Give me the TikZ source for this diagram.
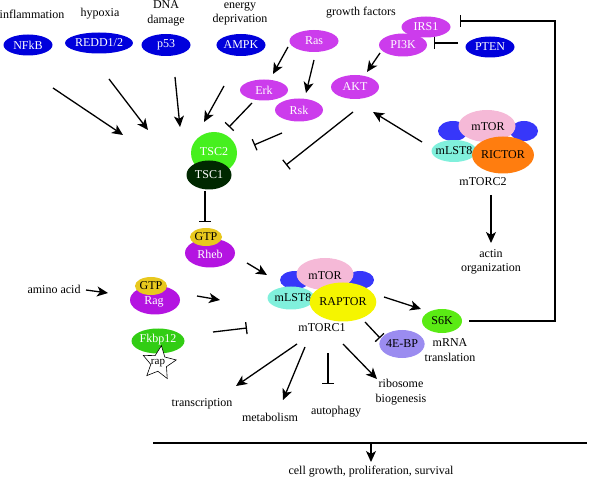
\documentclass[tikz,border=0pt]{standalone}
\usepackage{fontspec}
\setmainfont{Liberation Serif}
\usepackage{xcolor}
\usepackage{tikz}
\usetikzlibrary{shapes.geometric,arrows.meta}
\definecolor{inhibit}{RGB}{0,0,220}
\definecolor{sideblue}{RGB}{55,55,250}
\definecolor{kinase}{RGB}{204,60,236}
\definecolor{gprot}{RGB}{180,20,225}
\definecolor{tsctwo}{RGB}{70,240,30}
\definecolor{tscone}{RGB}{0,40,0}
\definecolor{gtp}{RGB}{232,200,30}
\definecolor{mtor}{RGB}{245,185,215}
\definecolor{mlst}{RGB}{128,240,220}
\definecolor{rictor}{RGB}{255,125,15}
\definecolor{raptor}{RGB}{245,245,0}
\definecolor{fkbp}{RGB}{50,205,20}
\definecolor{sixk}{RGB}{90,235,20}
\definecolor{ebp}{RGB}{155,140,240}
\newcommand{\labfont}{\fontsize{12}{14.5}\selectfont}

\begin{document}
\begin{tikzpicture}[x=1pt,y=-1pt, every node/.style={font=\labfont},
	prot/.style={ellipse,inner sep=0pt},
	wtext/.style={prot,text=white},
	act/.style={line width=1.3pt,-{Stealth[length=11pt,width=10pt,inset=3pt]}},
	inh/.style={line width=1.3pt,-{Bar[width=12pt,line width=1.3pt]}}]
					\useasboundingbox (0,0) rectangle (589,478);
					% upstream signals
					\coordinate (a1) at (53,88);    \coordinate (b1) at (123,135);
					\coordinate (a2) at (109,79);   \coordinate (b2) at (148,130);
					\coordinate (a3) at (175,77);   \coordinate (b3) at (180,127);
					\coordinate (a4) at (224,86);   \coordinate (b4) at (204,122);
					\coordinate (a5) at (288,47);   \coordinate (b5) at (273,74);
					\coordinate (a6) at (314,60);   \coordinate (b6) at (306,93);
					\coordinate (a7) at (380,53);   \coordinate (b7) at (367,72);
					\coordinate (a8) at (422,142);  \coordinate (b8) at (373,112);
					\coordinate (a9) at (491,195);  \coordinate (b9) at (491,243);
					\coordinate (a10) at (247,263); \coordinate (b10) at (267,275);
					\coordinate (a11) at (86,290);  \coordinate (b11) at (108,293);
					\coordinate (a12) at (197,296); \coordinate (b12) at (220,300);
					\coordinate (a13) at (384,297); \coordinate (b13) at (421,309);
					\coordinate (a14) at (297,344); \coordinate (b14) at (236,386);
					\coordinate (a15) at (305,347); \coordinate (b15) at (283,400);
					\coordinate (a16) at (343,344); \coordinate (b16) at (377,379);
					\coordinate (a17) at (371,443); \coordinate (b17) at (371,462);
					% inhibitions
					\coordinate (i1) at (252,103);  \coordinate (j1) at (229,127);
					\coordinate (i2) at (282,133);  \coordinate (j2) at (254,145);
					\coordinate (i3) at (353,112);  \coordinate (j3) at (286,165);
					\coordinate (i4) at (458,43);   \coordinate (j4) at (434,43);
					\coordinate (i5) at (205,191);  \coordinate (j5) at (205,222);
					\coordinate (i6) at (213,332);  \coordinate (j6) at (247,328);
					\coordinate (i7) at (365,322);  \coordinate (j7) at (380,338);
					\coordinate (i8) at (328,353);  \coordinate (j8) at (328,384);
					\coordinate (i9) at (469,321);  \coordinate (k9) at (555,21);  \coordinate (j9) at (460,21);
					\coordinate (l1) at (153,443);  \coordinate (l2) at (587,443);
					
					\foreach \n in {1,...,17}
						\draw[act] (a\n) -- (b\n);
					\foreach \n in {1,...,8}
						\draw[inh] (i\n) -- (j\n);
					\draw[inh] (i9) -| (k9) -- (j9);
					\draw[line width=1.3pt] (l1) -- (l2);
					
					\node (t1) at (32,14) {inflammation};
					\node (t2) at (100,14) {hypoxia};
					\node (t3) at (166,13.5) [align=center] {DNA\\damage};
					\node (t4) at (240,13.5) [align=center] {energy\\deprivation};
					\node (t5) at (361,13) {growth factors};
					\node (t6) at (54,289) {amino acid};
					\node (t7) at (483,182) {mTORC2};
					\node (t8) at (491,262) [align=center] {actin\\organization};
					\node (t9) at (322,328) {mTORC1};
					\node (t10) at (450,350) [align=center] {mRNA\\translation};
					\node (t11) at (202,404) {transcription};
					\node (t12) at (270,417) {metabolism};
					\node (t13) at (336,412) {autophagy};
					\node (t14) at (401,392) [align=center] {ribosome\\biogenesis};
					\node (t15) at (371,472) {cell growth, proliferation, survival};
					
					\node (nfkb) at (28,45) [wtext,fill=inhibit,minimum width=49pt,minimum height=21pt] {NFkB};
					\node (redd) at (99,43) [wtext,fill=inhibit,minimum width=50pt,minimum height=21pt] {REDD1/2};
					\node (p53) at (166,45) [wtext,fill=inhibit,minimum width=49pt,minimum height=22pt] {p53};
					\node (ampk) at (241,45) [wtext,fill=inhibit,minimum width=49pt,minimum height=22pt] {AMPK};
					\node (pten) at (490,47) [wtext,fill=inhibit,minimum width=49pt,minimum height=21pt] {PTEN};
					
					\node (ras) at (314,41) [wtext,fill=kinase,minimum width=49pt,minimum height=22pt] {Ras};
					\node (erk) at (264,90) [wtext,fill=kinase,minimum width=48pt,minimum height=21pt] {Erk};
					\node (rsk) at (299,110) [wtext,fill=kinase,minimum width=48pt,minimum height=23pt] {Rsk};
					\node (akt) at (355,87) [wtext,fill=kinase,minimum width=48pt,minimum height=24pt] {AKT};
					\node (irs) at (426,27) [wtext,fill=kinase,minimum width=49pt,minimum height=21pt] {IRS1};
					\node (pik) at (403,45) [wtext,fill=kinase,minimum width=48pt,minimum height=23pt] {PI3K};
					
					\node (tsc2) at (214,153) [wtext,fill=tsctwo,minimum width=46pt,minimum height=42pt] {};
					\node (tsc2l) at (214,152) [text=white] {TSC2};
					\node (tsc1) at (209,175) [wtext,fill=tscone,minimum width=45pt,minimum height=29pt] {TSC1};
					
					\node (rheb) at (210,253) [wtext,fill=gprot,minimum width=50pt,minimum height=29pt] {};
					\node (rhebl) at (210,254) [text=white] {Rheb};
					\node (gtp1) at (206,237) [prot,fill=gtp,minimum width=28pt,minimum height=18pt] {GTP};
					\node (rag) at (155,300) [wtext,fill=gprot,minimum width=50pt,minimum height=29pt] {};
					\node (ragl) at (154,302) [text=white] {Rag};
					\node (gtp2) at (151,286) [prot,fill=gtp,minimum width=28pt,minimum height=18pt] {GTP};
					
					\node (fkbp) at (158,341) [wtext,fill=fkbp,minimum width=53pt,minimum height=25pt] {};
					\node (fkbpl) at (158,340) [text=white] {Fkbp12};
					\node (rap) at (159,363) [star,star points=5,star point ratio=2.1,draw,fill=white,line width=0.6pt,minimum size=35pt,inner sep=0pt,rotate=-8] {};
					\node (rapl) at (158,363) [font=\fontsize{11}{12}\selectfont] {rap};
					
					% mTORC2
					\node (bl2) at (453,131) [prot,fill=sideblue,minimum width=30pt,minimum height=20pt] {};
					\node (br2) at (524,131) [prot,fill=sideblue,minimum width=28pt,minimum height=20pt] {};
					\node (mtor2) at (487,126) [prot,fill=mtor,minimum width=57pt,minimum height=32pt] {};
					\node (mtor2l) at (488,127) {mTOR};
					\node (mlst2) at (454,151) [prot,fill=mlst,minimum width=45pt,minimum height=22pt] {};
					\node (mlst2l) at (454,151) {mLST8};
					\node (rictor) at (503,155) [prot,fill=rictor,minimum width=60pt,minimum height=37pt] {RICTOR};
					
					% mTORC1
					\node (bl1) at (295,280) [prot,fill=sideblue,minimum width=30pt,minimum height=18pt] {};
					\node (br1) at (360,280) [prot,fill=sideblue,minimum width=28pt,minimum height=18pt] {};
					\node (mtor1) at (325,274) [prot,fill=mtor,minimum width=57pt,minimum height=32pt] {};
					\node (mtor1l) at (325,276) {mTOR};
					\node (mlst1) at (291,298) [prot,fill=mlst,minimum width=47pt,minimum height=23pt] {};
					\node (mlst1l) at (293,298) {mLST8};
					\node (raptor) at (343,302) [prot,fill=raptor,minimum width=60pt,minimum height=39pt] {RAPTOR};
					
					\node (s6k) at (442,321) [prot,fill=sixk,minimum width=40pt,minimum height=24pt] {S6K};
					\node (ebp) at (402,344) [prot,fill=ebp,minimum width=43pt,minimum height=28pt] {4E-BP};
					
				\end{tikzpicture}
\end{document}
